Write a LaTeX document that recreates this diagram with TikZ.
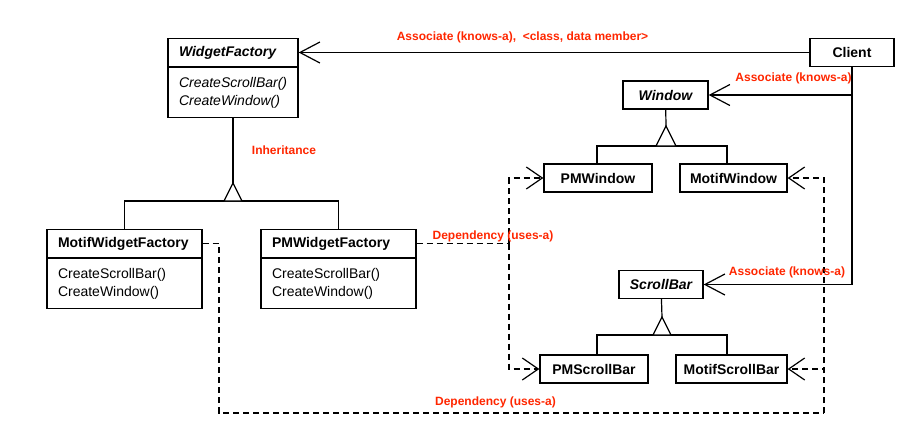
\documentclass[tikz,border=0pt]{standalone}
\usepackage{fontspec}
\setmainfont{Liberation Sans}
\usetikzlibrary{arrows.meta}
\definecolor{labelred}{RGB}{255,38,0}
\newcommand{\clsfont}{\fontsize{14}{16}\selectfont\bfseries}
\newcommand{\absfont}{\fontsize{14}{16}\selectfont\bfseries\itshape}
\newcommand{\opfont}{\fontsize{14}{18}\selectfont}
\newcommand{\absopfont}{\fontsize{14}{18}\selectfont\itshape}
\tikzset{
	classname/.style={draw, line width=1.3pt, minimum height=28pt, inner ysep=0pt, inner xsep=11pt, align=left, text width=#1, font=\clsfont},
	opsbox/.style={draw, line width=1.3pt, minimum height=50pt, inner ysep=0pt, inner xsep=11pt, align=left, text width=#1, font=\opfont, anchor=north},
	classbox/.style={draw, line width=1.3pt, minimum height=28pt, minimum width=#1, inner sep=0pt, font=\clsfont},
	link/.style={line width=1.2pt},
	assoc/.style={link, -{Straight Barb[length=20pt,width=21pt]}},
	dep/.style={link, dash pattern=on 6pt off 4pt},
	depto/.style={dep, -{Straight Barb[length=16pt,width=22pt]}},
	lbl/.style={text=labelred, inner sep=0pt, font=\fontsize{12}{14}\selectfont\bfseries}
}
\begin{document}
\begin{tikzpicture}[x=1pt,y=-1pt]
		\useasboundingbox (0,0) rectangle (922,445);
		%Factories
		\node [classname=108pt, font=\absfont] (wf) at (233,52.5) {WidgetFactory};
		\node [opsbox=108pt, font=\absopfont] (wfops) at (wf.south) {CreateScrollBar()\\CreateWindow()};
		\node [classname=133pt] (mwf) at (124.5,243.5) {MotifWidgetFactory};
		\node [opsbox=133pt] (mwfops) at (mwf.south) {CreateScrollBar()\\CreateWindow()};
		\node [classname=133pt] (pwf) at (338.5,243.5) {PMWidgetFactory};
		\node [opsbox=133pt] (pwfops) at (pwf.south) {CreateScrollBar()\\CreateWindow()};
		%Client and products
		\node [classbox=84pt] (client) at (852,52.5) {Client};
		\node [classbox=85pt, font=\absfont] (window) at (665.5,95) {Window};
		\node [classbox=108pt] (pmwindow) at (598,178) {PMWindow};
		\node [classbox=107pt] (motifwindow) at (733.5,178) {MotifWindow};
		\node [classbox=84pt, font=\absfont] (scrollbar) at (661,284.5) {ScrollBar};
		\node [classbox=108pt] (pmscrollbar) at (594,369) {PMScrollBar};
		\node [classbox=111pt] (motifscrollbar) at (731.5,369) {MotifScrollBar};
		%Associations from the client
		\draw [assoc] (client) -- (wf);
		\draw [assoc] (client.south |- window) -- (window);
		\draw [assoc] (client.south) |- (scrollbar);
		%Inheritance of the factories
		\coordinate (wfapex) at (233,183);
		\coordinate (wfbase) at (233,201);
		\draw [link] (wfops) -- (wfapex);
		\draw [link] (mwf.north) |- (wfbase) -| (pwf.north);
		\draw [link, fill=white] (wfapex) -- ++(-9,18) -- ++(18,0) -- cycle;
		%Inheritance of the windows
		\coordinate (winapex) at (666,126);
		\coordinate (winbase) at (666,146);
		\draw [link] (window) -- (winapex);
		\draw [link] ([xshift=-1pt]pmwindow.north) |- (winbase) -| ([xshift=-6.5pt]motifwindow.north);
		\draw [link, fill=white] (winapex) -- ++(-10,20) -- ++(20,0) -- cycle;
		%Inheritance of the scroll bars
		\coordinate (sbapex) at (662,317);
		\coordinate (sbbase) at (662,335);
		\draw [link] (scrollbar) -- (sbapex);
		\draw [link] ([xshift=3pt]pmscrollbar.north) |- (sbbase) -| ([xshift=-4.5pt]motifscrollbar.north);
		\draw [link, fill=white] (sbapex) -- ++(-9,18) -- ++(18,0) -- cycle;
		%Dependencies of PMWidgetFactory
		\coordinate (pmjoin) at (509,247);
		\draw [dep] (pwf) -- (pwf -| pmjoin);
		\draw [depto] (pwf -| pmjoin) |- (pmwindow);
		\draw [depto] (pwf -| pmjoin) |- (pmscrollbar);
		%Dependencies of MotifWidgetFactory
		\coordinate (motifleft) at (219,413);
		\coordinate (motifright) at (824,413);
		\draw [dep] (mwf) -| (motifleft) -- (motifright);
		\draw [depto] (motifright) |- (motifwindow);
		\draw [depto] (motifright) |- (motifscrollbar);
		%Labels
		\node [lbl] (lblclient) at (522.5,37) {Associate (knows-a),\ \ <class, data member>};
		\node [lbl] (lblwindow) at (793.5,78) {Associate (knows-a)};
		\node [lbl] (lblinherit) at (284,150) {Inheritance};
		\node [lbl] (lbldeptop) at (493,236) {Dependency (uses-a)};
		\node [lbl] (lblscroll) at (787,272) {Associate (knows-a)};
		\node [lbl] (lbldepbottom) at (495.5,402) {Dependency (uses-a)};
\end{tikzpicture}
\end{document}
